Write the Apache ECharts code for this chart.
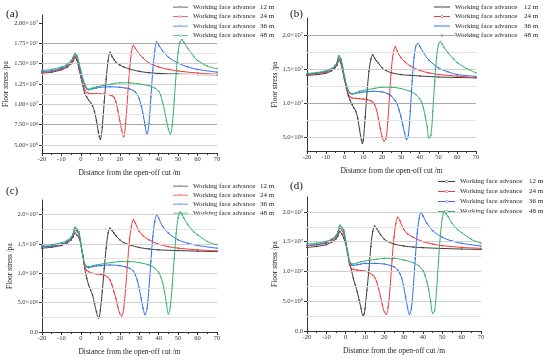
<!DOCTYPE html>
<html><head><meta charset="utf-8">
<script src="https://cdn.jsdelivr.net/npm/echarts@6/dist/echarts.min.js"></script>
<style>html,body{margin:0;padding:0;background:#fff}#c{width:550px;height:360px}</style>
</head><body><div id="c"></div>
<script>
// x positions (m) for each advance case
const x12 = [-20,-15,-10,-7,-5,-4,-3,-2,-1,0,1,2,3,4,5,6,7,8,9,9.5,10,11,12,13,14,15,16,17,18,20,22,25,30,35,40,50,60,70];
const x24 = [-20,-15,-10,-7,-5,-4,-3,-2,-1,0,1,2,3,4,6,8,10,12,14,15,16,17,18,19,20,21,22,23,24,25,26,27,28,30,32,35,40,45,50,60,70];
const x36 = [-20,-15,-10,-7,-5,-4,-3,-2,-1,0,1,2,3,4,6,8,10,15,20,23,25,27,28,29,30,31,32,33,34,35,36,37,38,39,40,42,45,50,55,60,70];
const x48 = [-20,-15,-10,-7,-5,-4,-3,-2,-1,0,1,2,3,4,6,8,12,16,20,25,30,35,38,40,41,42,43,44,45,46,47,48,49,50,51,52,53,55,58,60,65,70];

// floor stress values, units of 1e6 Pa
const aBlack = [13.84,13.96,14.25,14.58,15.0,15.3,15.73,15.4,14.37,13.34,12.3,11.3,10.9,10.5,10.2,9.8,9.1,8.0,6.6,6.0,5.7,7.2,10.3,13.1,15.4,16.4,15.9,15.5,15.2,14.85,14.6,14.35,14.05,13.9,13.8,13.72,13.66,13.63];
const aRed = [13.95,14.05,14.35,14.7,15.1,15.45,15.93,15.6,14.6,13.5,12.5,11.8,11.45,11.35,11.3,11.3,11.28,11.25,11.2,11.15,11.05,10.85,10.3,9.2,8.0,6.8,6.0,7.6,10.9,14.2,16.4,17.25,16.9,16.2,15.7,15.1,14.6,14.3,14.1,13.85,13.7];
const aBlue = [14.05,14.15,14.45,14.8,15.3,15.7,16.2,15.9,14.9,13.8,12.9,12.2,11.9,11.8,11.9,12.0,12.1,12.15,12.1,12.0,11.9,11.7,11.5,11.2,10.7,9.85,8.8,7.4,6.3,7.6,10.9,14.2,16.6,17.66,17.3,16.6,15.8,15.07,14.6,14.3,13.96];
const aGreen = [14.17,14.3,14.6,14.95,15.4,15.8,16.25,16.0,15.1,14.2,13.2,12.5,12.0,11.86,12.0,12.15,12.35,12.5,12.65,12.65,12.5,12.3,12.0,11.6,11.1,10.26,9.23,8.0,6.97,6.36,7.38,10.47,13.75,16.4,17.66,17.95,17.6,16.9,15.9,15.4,14.7,14.37];

const bBlack = [14.08,14.2,14.4,14.75,15.2,15.6,16.3,15.9,14.7,13.4,12.2,11.1,10.4,9.8,9.3,8.8,7.8,6.1,4.6,4.15,4.6,8.0,11.7,14.7,16.45,17.1,16.6,16.2,15.9,15.2,14.8,14.47,14.2,14.1,14.0,13.85,13.78,13.73];
const bRed = [14.2,14.3,14.55,14.9,15.35,15.8,16.54,16.1,14.9,13.5,12.3,11.4,10.95,10.77,10.72,10.67,10.6,10.53,10.35,10.18,9.79,9.05,7.8,6.33,5.1,4.46,4.75,7.3,11.26,15.2,17.43,18.27,17.68,16.7,16.1,15.46,14.82,14.45,14.22,13.98,13.73];
const bBlue = [14.3,14.4,14.65,15.0,15.45,15.95,16.94,16.5,15.2,13.8,12.6,11.8,11.45,11.36,11.46,11.56,11.66,11.76,11.66,11.41,11.02,10.38,9.88,9.05,8.06,6.83,5.6,4.7,5.35,8.8,13.24,16.7,18.4,18.76,18.4,17.43,16.3,15.2,14.62,14.22,13.93];
const bGreen = [14.37,14.5,14.75,15.1,15.55,16.0,16.94,16.5,15.3,13.9,12.7,11.9,11.5,11.36,11.55,11.76,12.0,12.18,12.35,12.35,12.15,11.76,11.27,10.67,10.18,9.3,8.06,6.6,4.9,5.3,8.8,13.24,16.7,18.57,19.06,18.67,18.2,17.43,16.5,15.95,15.1,14.47];

const cBlack = [14.29,14.45,14.75,15.2,15.7,16.2,16.86,16.5,16.1,14.86,12.86,10.86,9.14,8.0,7.14,6.29,4.86,3.43,2.4,2.6,3.71,6.86,10.86,14.29,16.86,17.71,17.3,16.86,16.4,15.71,15.25,14.86,14.4,14.15,14.0,13.88,13.78,13.71];
const cRed = [14.5,14.65,14.95,15.4,15.95,16.5,17.43,17.1,16.6,15.0,12.9,11.14,10.5,10.29,10.0,9.9,9.83,9.65,9.3,8.86,8.0,6.86,5.71,4.29,3.14,2.74,4.0,7.43,11.71,15.71,18.0,19.14,18.57,17.14,16.4,15.71,14.97,14.55,14.29,14.0,13.83];
const cBlue = [14.5,14.65,15.0,15.45,16.0,16.6,17.7,17.3,16.8,15.0,13.0,11.5,11.1,10.97,11.14,11.25,11.31,11.43,11.31,11.1,10.86,10.4,9.71,8.86,7.43,5.71,4.0,2.97,4.0,7.43,12.0,16.29,18.86,19.89,19.43,18.0,16.86,15.71,15.14,14.74,14.29];
const cGreen = [14.74,14.9,15.2,15.65,16.2,16.8,17.89,17.5,17.1,15.1,13.1,11.6,11.2,11.14,11.3,11.43,11.65,11.85,12.0,12.0,11.83,11.43,10.86,10.17,9.43,8.46,6.86,4.86,3.1,4.29,8.0,12.57,16.86,19.43,20.46,20.0,19.4,18.29,17.1,16.57,15.43,14.86];

const dBlack = [14.04,14.2,14.5,14.95,15.45,15.95,16.69,16.3,15.6,14.6,13.3,11.6,10.2,8.8,7.7,6.57,5.17,3.76,2.47,2.8,3.76,6.85,10.2,14.16,16.69,17.64,17.2,16.69,16.2,15.39,15.0,14.6,14.27,14.1,13.99,13.86,13.76,13.7];
const dRed = [14.3,14.45,14.75,15.2,15.7,16.3,17.25,16.9,16.3,14.9,13.0,11.07,10.5,10.34,10.22,10.15,10.06,9.8,9.4,8.99,8.26,7.13,5.84,4.33,3.2,2.81,4.04,7.42,11.91,15.84,18.09,19.1,18.54,17.08,16.3,15.73,15.0,14.6,14.33,14.04,13.88];
const dBlue = [14.4,14.55,14.9,15.35,15.9,16.5,17.6,17.3,16.8,15.0,13.1,11.6,11.1,11.01,11.12,11.25,11.35,11.35,11.24,11.0,10.79,10.22,9.66,8.82,7.42,5.73,3.93,2.81,3.76,7.42,12.19,16.4,18.93,19.89,19.33,18.09,16.85,15.73,15.11,14.72,14.27];
const dGreen = [14.6,14.75,15.05,15.5,16.05,16.7,17.8,17.4,17.0,15.2,13.2,11.7,11.3,11.24,11.45,11.63,11.85,12.05,12.19,12.19,11.91,11.46,10.9,10.11,9.38,8.26,6.85,4.89,3.0,3.4,6.85,11.63,16.12,18.93,20.06,19.66,19.2,18.09,17.0,16.52,15.39,14.72];

const seriesNames = ['12 m','24 m','36 m','48 m'];
const legendText = 'Working face advance';
const panelLabels = ['(a)','(b)','(c)','(d)'];
const xTitle = 'Distance from the open-off cut /m';
const yTitle = 'Floor stress /pa';
const yTicksA = [5e6,7.5e6,1e7,1.25e7,1.5e7,1.75e7,2e7];
const yTicksB = [5e6,1e7,1.5e7,2e7];
const yTicksC = [0,5e6,1e7,1.5e7,2e7];
const yTicksD = [0,5e6,1e7,1.5e7,2e7];

const SERIF = '"Liberation Serif","DejaVu Serif",serif';
const COLORS = ['#3d3d3d','#f03a3a','#2f6ff0','#36b26a'];
const xs = [x12,x24,x36,x48];
const LEGEND_ICON = 'path://M0,2.6 L16,2.6 L16,3.4 L0,3.4 Z M6.8,3 A1.2,1.2 0 1 0 9.2,3 A1.2,1.2 0 1 0 6.8,3 Z';

const panels = [
  {grid:{left:42,top:15,width:175,height:138}, min:4e6, max:2.1e7, ticks:yTicksA, dec:2, data:[aBlack,aRed,aBlue,aGreen],
   gMajor:[5e6,1e7,1.25e7,1.5e7], gDark:[7.5e6,1.75e7], gMinor:[6.25e6,8.75e6,1.125e7,1.375e7,1.625e7],
   nameGap:31, label:{left:6,top:9}, legend:{left:173,top:3.5,itemWidth:15,itemGap:3,w:67}},
  {grid:{left:307,top:18,width:169,height:133}, min:3e6, max:2.25e7, ticks:yTicksB, dec:1, data:[bBlack,bRed,bBlue,bGreen],
   gMajor:[5e6,1.5e7], gDark:[1e7,2e7], gMinor:[7.5e6,1.25e7,1.75e7],
   nameGap:25, label:{left:290,top:9}, legend:{left:434,top:3.5,itemWidth:16,itemGap:3,w:69}},
  {grid:{left:42,top:200,width:175,height:132}, min:0, max:2.25e7, ticks:yTicksC, dec:1, data:[cBlack,cRed,cBlue,cGreen],
   gMajor:[5e6,1e7,1.5e7,2e7], gDark:[], gMinor:[2.5e6,7.5e6,1.25e7,1.75e7],
   nameGap:28, label:{left:6,top:186}, legend:{left:173,top:182.5,itemWidth:15,itemGap:2.5,w:67}},
  {grid:{left:307,top:197,width:174,height:134}, min:0, max:2.25e7, ticks:yTicksD, dec:1, data:[dBlack,dRed,dBlue,dGreen],
   gMajor:[5e6,1e7,1.5e7,2e7], gDark:[], gMinor:[2.5e6,7.5e6,1.25e7,1.75e7],
   nameGap:26, label:{left:290,top:181}, legend:{left:438,top:178,itemWidth:17,itemGap:3.5,w:69}}
];

function sciFmt(dec){
  return function(v){
    if (v === 0) return '{m|0.0}';
    const e = Math.floor(Math.log10(v) + 1e-9);
    const m = (v / Math.pow(10, e)).toFixed(dec);
    return '{m|' + m + '×10}{s|' + e + '}';
  };
}

const option = {animation:false, backgroundColor:'#fff', grid:[], xAxis:[], yAxis:[], series:[], legend:[], title:[]};
panels.forEach((p, i) => {
  option.grid.push(Object.assign({containLabel:false}, p.grid));
  option.xAxis.push({
    gridIndex:i, type:'value', min:-20, max:70, interval:10,
    axisLine:{onZero:false, lineStyle:{color:'#333', width:1}},
    axisTick:{length:3, lineStyle:{color:'#333'}},
    minorTick:{show:true, splitNumber:2, length:2, lineStyle:{color:'#333'}},
    axisLabel:{fontSize:6.5, margin:3, fontFamily:SERIF, color:'#333'},
    splitLine:{show:false},
    name:xTitle, nameLocation:'middle', nameGap:16,
    nameTextStyle:{fontSize:7.5, fontFamily:SERIF, color:'#222'}
  });
  option.yAxis.push({
    gridIndex:i, type:'value', min:p.min, max:p.max,
    axisLine:{show:true, onZero:false, lineStyle:{color:'#333', width:1}},
    axisTick:{show:true, length:3, customValues:p.ticks, lineStyle:{color:'#333'}},
    axisLabel:{customValues:p.ticks, margin:4, formatter:sciFmt(p.dec),
      rich:{m:{fontSize:6.5, fontFamily:SERIF, color:'#333'}, s:{fontSize:4.5, fontFamily:SERIF, color:'#333', verticalAlign:'top'}}},
    splitLine:{show:false},
    name:yTitle, nameLocation:'middle', nameGap:p.nameGap,
    nameTextStyle:{fontSize:7.5, fontFamily:SERIF, color:'#222'}
  });
  const ml = [];
  p.gMinor.forEach(v => ml.push({yAxis:v, lineStyle:{color:'#e3e3e3', width:1, type:'solid'}}));
  p.gMajor.forEach(v => ml.push({yAxis:v, lineStyle:{color:'#cfcfcf', width:1, type:'solid'}}));
  p.gDark.forEach(v => ml.push({yAxis:v, lineStyle:{color:'#a8a8a8', width:1, type:'solid'}}));
  option.series.push({type:'line', name:'grid'+i, xAxisIndex:i, yAxisIndex:i, data:[], z:1, silent:true,
    markLine:{silent:true, symbol:['none','none'], label:{show:false}, animation:false, data:ml}});
  p.data.forEach((vals, k) => {
    const xv = xs[k];
    option.series.push({
      type:'line', name:seriesNames[k], xAxisIndex:i, yAxisIndex:i, z:2+k,
      data: xv.map((x, j) => [x, vals[j] * 1e6]),
      smooth:0.35, symbol:'circle', symbolSize:1.6, showSymbol:true,
      lineStyle:{color:COLORS[k], width:1}, itemStyle:{color:COLORS[k]}
    });
  });
  option.legend.push({
    orient:'vertical', left:p.legend.left, top:p.legend.top, padding:0,
    itemWidth:p.legend.itemWidth, itemHeight:6, itemGap:p.legend.itemGap - 0.5, itemTextGap:5,
    icon:LEGEND_ICON,
    data:seriesNames, selectedMode:false,
    formatter: n => '{a|' + legendText + '}{b|' + n + '}',
    textStyle:{fontSize:7, fontFamily:SERIF, color:'#222', lineHeight:7,
      rich:{a:{width:p.legend.w, fontSize:7, fontFamily:SERIF, color:'#222', lineHeight:7}, b:{fontSize:7, fontFamily:SERIF, color:'#222', lineHeight:7}}}
  });
  option.title.push({text:panelLabels[i], left:p.label.left, top:p.label.top, padding:0,
    textStyle:{fontSize:11, fontWeight:'normal', fontFamily:SERIF, color:'#111'}});
});

const chart = echarts.init(document.getElementById('c'), null, {renderer:'canvas'});
chart.setOption(option);
</script>
</body></html>
